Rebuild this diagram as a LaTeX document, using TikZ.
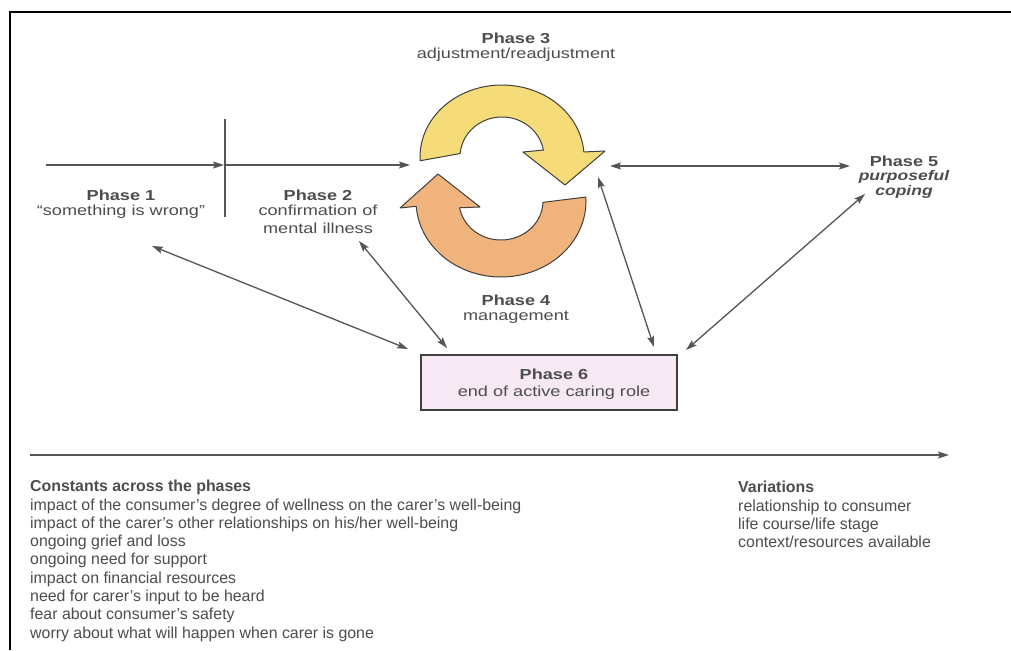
\documentclass[tikz,border=0pt]{standalone}
\usepackage{fontspec}
\setmainfont{Liberation Sans}
\newfontfamily\widefont[FakeStretch=1.25]{Liberation Sans}
\usetikzlibrary{arrows.meta}
\definecolor{txt}{HTML}{4D4D4D}
\definecolor{ln}{HTML}{555555}
\definecolor{yel}{HTML}{F6DC78}
\definecolor{ora}{HTML}{F0B37C}
\definecolor{pinkbox}{HTML}{F7E9F3}
\definecolor{edge}{HTML}{3F3F3F}
\begin{document}
\begin{tikzpicture}[x=1pt,y=-1pt,
  lbl/.style={anchor=base, inner sep=0pt, text=txt, font=\widefont\fontsize{14.5}{17}\selectfont},
  lblb/.style={anchor=base, inner sep=0pt, text=txt, font=\widefont\bfseries\fontsize{14.5}{17}\selectfont},
  lblbi/.style={anchor=base, inner sep=0pt, text=txt, font=\widefont\bfseries\itshape\fontsize{14}{17}\selectfont},
  body/.style={anchor=base west, inner sep=0pt, text=txt, font=\fontsize{15.9}{18.3}\selectfont},
  bodyb/.style={anchor=base west, inner sep=0pt, text=txt, font=\bfseries\fontsize{15.9}{18.3}\selectfont},
  tip/.tip={Stealth[length=11pt,width=7pt,inset=2pt]},
  conn/.style={draw=ln, line width=1.3pt, -tip},
  dconn/.style={draw=ln, line width=1.3pt, tip-tip},
  band/.style={draw=edge, line width=1pt, line join=round}
]
\useasboundingbox (0,0) rectangle (1011,650);
\fill[white] (0,0) rectangle (1011,650);
% frame
\draw[line width=2pt, black] (9.5,650) -- (9.5,12) -- (1011,12);

% cycle arrows
\filldraw[band, fill=yel] plot[domain=177:356, samples=60] ({502+82*cos(\x)},{157+72*sin(\x)})
  -- (605,151) -- (565,185) -- (523,152)
  -- plot[domain=350:185, samples=60] ({502+42*cos(\x)},{157+40*sin(\x)}) -- cycle;
\filldraw[band, fill=ora] plot[domain=-3:176, samples=60] ({501+85*cos(\x)},{201+76*sin(\x)})
  -- (400,208) -- (438,174) -- (480,207)
  -- plot[domain=170:2, samples=60] ({501+42*cos(\x)},{201+39*sin(\x)}) -- cycle;

% labels
\node[lblb] (p3a) at (516,43.3) {Phase 3};
\node[lbl]  (p3b) at (516,58.3) {adjustment/readjustment};
\node[lblb] (p1a) at (121,200.7) {Phase 1};
\node[lbl]  (p1b) at (121,215) {“something is wrong”};
\node[lblb] (p2a) at (318,200.7) {Phase 2};
\node[lbl]  (p2b) at (318,215.5) {confirmation of};
\node[lbl]  (p2c) at (318,233) {mental illness};
\node[lblb] (p4a) at (516,305.7) {Phase 4};
\node[lbl]  (p4b) at (516,320) {management};
\node[lblb] (p5a) at (904,166) {Phase 5};
\node[lblbi] (p5b) at (904,180.5) {purposeful};
\node[lblbi] (p5c) at (904,195) {coping};

% phase 6 box
\node[draw=edge, fill=pinkbox, line width=1.3pt, minimum width=256pt, minimum height=55pt, inner sep=0pt] (p6) at (549,382.5) {};
\node[lblb] (p6a) at (554,379.3) {Phase 6};
\node[lbl]  (p6b) at (554,396) {end of active caring role};

% connector end points
\coordinate (t0) at (46,165);
\coordinate (t1) at (224,165);
\coordinate (t2) at (410,165);
\coordinate (v0) at (225,119);
\coordinate (v1) at (225,217);
\coordinate (e1a) at (152,246);
\coordinate (e1b) at (408,349);
\coordinate (e2a) at (359,241);
\coordinate (e2b) at (447,348);
\coordinate (e3a) at (598,177);
\coordinate (e3b) at (654,347);
\coordinate (e4a) at (865,194);
\coordinate (e4b) at (686,350);
\coordinate (e5a) at (610,166);
\coordinate (e5b) at (850,166);
\coordinate (b0) at (30,455);
\coordinate (b1) at (949,455);

\draw[conn] (t0) -- (t1);
\draw[conn] (t1) -- (t2);
\draw[draw=ln, line width=1.3pt] (v0) -- (v1);
\draw[dconn] (e1a) -- (e1b);
\draw[dconn] (e2a) -- (e2b);
\draw[dconn] (e3a) -- (e3b);
\draw[dconn] (e4a) -- (e4b);
\draw[dconn] (e5a) -- (e5b);
\draw[conn, line width=1.2pt] (b0) -- (b1);

% bottom texts
\node[bodyb] (c0) at (30,491.7) {Constants across the phases};
\foreach \t [count=\i] in {impact of the consumer’s degree of wellness on the carer’s well-being,
  impact of the carer’s other relationships on his/her well-being,
  ongoing grief and loss,
  ongoing need for support,
  impact on financial resources,
  need for carer’s input to be heard,
  fear about consumer’s safety,
  worry about what will happen when carer is gone}
  \node[body] (c\i) at (30,{491.7+18.3*\i}) {\t};

\node[bodyb] (v0t) at (738,492.7) {Variations};
\foreach \t [count=\i] in {relationship to consumer, life course/life stage, context/resources available}
  \node[body] (w\i) at (738,{492.7+18.3*\i}) {\t};
\end{tikzpicture}
\end{document}
